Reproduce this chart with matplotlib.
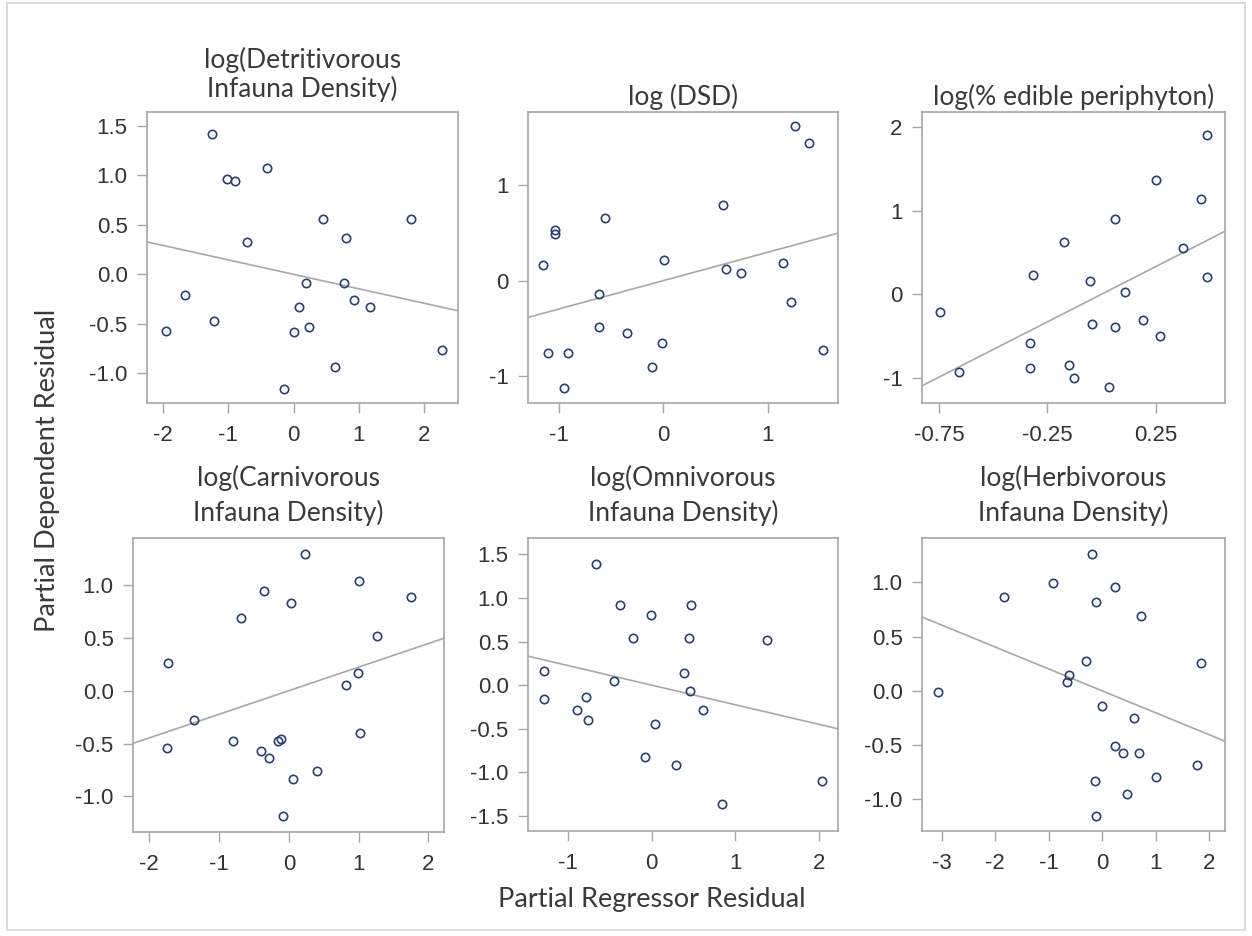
# Partial regression plots (six predictors) - recriação do painel SAS
import numpy as np
import matplotlib.pyplot as plt
from matplotlib.patches import Rectangle

# ---- dados ----
titulos = [
    ['log(Detritivorous', 'Infauna Density)'],
    ['log (DSD)'],
    ['log(% edible periphyton)'],
    ['log(Carnivorous', 'Infauna Density)'],
    ['log(Omnivorous', 'Infauna Density)'],
    ['log(Herbivorous', 'Infauna Density)'],
]

x_detr = [-1.25, -0.41, -1.02, -0.89, 0.45, 1.80, -0.71, 0.81, 0.19, 0.78, -1.67,
          0.09, 0.93, 1.17, -1.22, -1.96, 0.005, 0.24, 2.27, 0.63, -0.15]
y_detr = [1.415, 1.074, 0.96, 0.94, 0.564, 0.564, 0.33, 0.37, -0.09, -0.09, -0.21,
          -0.33, -0.26, -0.33, -0.47, -0.57, -0.58, -0.53, -0.76, -0.94, -1.16]

x_dsd = [1.26, 1.40, 0.57, -0.56, -1.04, -1.04, -1.16, 0.01, 0.60, 0.74, 1.15,
         -0.615, 1.22, -0.615, -0.35, -0.01, -1.11, -0.92, -0.11, -0.95, 1.53]
y_dsd = [1.614, 1.443, 0.79, 0.65, 0.53, 0.49, 0.163, 0.22, 0.12, 0.08, 0.18,
         -0.14, -0.226, -0.49, -0.55, -0.65, -0.76, -0.76, -0.90, -1.12, -0.73]

x_peri = [0.486, 0.252, 0.458, 0.063, -0.171, 0.378, -0.317, -0.055, 0.486, 0.109, -0.748,
          -0.045, 0.063, 0.191, 0.271, -0.332, -0.657, -0.332, -0.152, -0.125, 0.037]
y_peri = [1.907, 1.37, 1.136, 0.906, 0.628, 0.556, 0.23, 0.159, 0.203, 0.024, -0.21,
          -0.354, -0.397, -0.306, -0.493, -0.584, -0.934, -0.882, -0.842, -1.0, -1.112]

x_carn = [0.234, 1.0, -0.354, 0.033, 1.75, -0.684, 1.27, -1.727, 0.99, 0.823, -1.354,
          -0.794, -0.148, -0.115, -1.751, 1.024, -0.40, -0.282, 0.402, 0.067, -0.077]
y_carn = [1.295, 1.033, 0.945, 0.834, 0.888, 0.686, 0.518, 0.259, 0.171, 0.054, -0.278,
          -0.477, -0.474, -0.461, -0.537, -0.404, -0.572, -0.632, -0.758, -0.837, -1.185]

x_omni = [-0.669, -0.382, 0.474, -0.012, -0.223, 0.446, 1.381, -1.289, -0.454, 0.386, 0.454,
          -1.289, -0.788, -0.887, -0.760, 0.613, 0.036, -0.084, 0.294, 0.844, 2.037]
y_omni = [1.385, 0.916, 0.916, 0.80, 0.542, 0.542, 0.515, 0.160, 0.046, 0.134, -0.065,
          -0.160, -0.134, -0.286, -0.401, -0.286, -0.447, -0.828, -0.916, -1.363, -1.095]

x_herb = [-0.193, -0.922, 0.243, -1.83, -0.118, 0.722, -0.299, 1.849, -0.629, -0.66, -3.07,
          -0.006, 0.604, 0.243, 0.399, 0.691, 1.781, 1.009, -0.143, 0.461, -0.118]
y_herb = [1.265, 0.994, 0.957, 0.865, 0.815, 0.692, 0.271, 0.255, 0.148, 0.077, -0.015,
          -0.138, -0.252, -0.505, -0.575, -0.575, -0.683, -0.791, -0.828, -0.954, -1.151]

xs = [x_detr, x_dsd, x_peri, x_carn, x_omni, x_herb]
ys = [y_detr, y_dsd, y_peri, y_carn, y_omni, y_herb]

# inclinação da reta de regressão parcial (passa pela origem)
inclinacoes = [-0.146, 0.296, 1.32, 0.223, -0.225, -0.202]

xticks = [[-2, -1, 0, 1, 2], [-1, 0, 1], [-0.75, -0.25, 0.25],
          [-2, -1, 0, 1, 2], [-1, 0, 1, 2], [-3, -2, -1, 0, 1, 2]]
xticklabels = [['-2', '-1', '0', '1', '2'], ['-1', '0', '1'], ['-0.75', '-0.25', '0.25'],
               ['-2', '-1', '0', '1', '2'], ['-1', '0', '1', '2'], ['-3', '-2', '-1', '0', '1', '2']]
yticks = [[-1.0, -0.5, 0.0, 0.5, 1.0, 1.5], [-1, 0, 1], [-1, 0, 1, 2],
          [-1.0, -0.5, 0.0, 0.5, 1.0], [-1.5, -1.0, -0.5, 0.0, 0.5, 1.0, 1.5],
          [-1.0, -0.5, 0.0, 0.5, 1.0]]
yticklabels = [['-1.0', '-0.5', '0.0', '0.5', '1.0', '1.5'], ['-1', '0', '1'], ['-1', '0', '1', '2'],
               ['-1.0', '-0.5', '0.0', '0.5', '1.0'],
               ['-1.5', '-1.0', '-0.5', '0.0', '0.5', '1.0', '1.5'],
               ['-1.0', '-0.5', '0.0', '0.5', '1.0']]

xlims = [(-2.245, 2.52), (-1.30, 1.676), (-0.829, 0.571),
         (-2.234, 2.225), (-1.476, 2.224), (-3.37, 2.298)]
ylims = [(-1.30, 1.64), (-1.28, 1.763), (-1.30, 2.18),
         (-1.336, 1.444), (-1.672, 1.687), (-1.292, 1.409)]

# ---- layout (pixels) ----
W, H = 1252, 936
caixas = [(147, 112, 458, 403), (528, 112, 838, 403), (922, 112, 1225, 403),
          (133, 538, 444, 832), (528, 538, 838, 831), (922, 538, 1225, 831)]
titulo_y = [[60, 89], [97], [97], [478, 513], [478, 513], [478, 513]]

cor_texto = '#3a3a3a'
cor_eixo = '#a6a6a6'
cor_ponto = '#2b3f73'
fonte_titulo = 'Lato'
fonte_ticks = 'Liberation Sans'

fig = plt.figure(figsize=(W / 100, H / 100), dpi=100)
fig.patches.append(Rectangle((7 / W, 1 - 930 / H), (1245 - 7) / W, (930 - 3) / H,
                             transform=fig.transFigure, fill=False,
                             edgecolor='#d4d4d4', linewidth=1.2))

for i in range(6):
    l, t, r, b = caixas[i]
    ax = fig.add_axes([l / W, 1 - b / H, (r - l) / W, (b - t) / H])
    ax.set_xlim(xlims[i])
    ax.set_ylim(ylims[i])

    x0, x1 = xlims[i]
    ax.plot([x0, x1], [inclinacoes[i] * x0, inclinacoes[i] * x1],
            color='#a8a8a8', linewidth=1.2, zorder=2)
    ax.plot(xs[i], ys[i], linestyle='none', marker='o', markersize=6,
            markerfacecolor='none', markeredgecolor=cor_ponto, markeredgewidth=1.2, zorder=3)

    ax.set_xticks(xticks[i])
    ax.set_xticklabels(xticklabels[i])
    ax.set_yticks(yticks[i])
    ax.set_yticklabels(yticklabels[i])
    ax.tick_params(direction='out', length=7, width=1, color=cor_eixo,
                   labelcolor='#333333', labelsize=16, pad=7)
    ax.tick_params(axis='x', pad=9)
    for lab in ax.get_xticklabels() + ax.get_yticklabels():
        lab.set_fontfamily(fonte_ticks)
    for sp in ax.spines.values():
        sp.set_color(cor_eixo)
        sp.set_linewidth(1.2)

    cx = (l + r) / 2
    for linha, yy in zip(titulos[i], titulo_y[i]):
        fig.text(cx / W, 1 - yy / H, linha, ha='center', va='center',
                 fontsize=19, family=fonte_titulo, color=cor_texto)

fig.text(48 / W, 1 - 470 / H, 'Partial Dependent Residual', rotation=90,
         ha='center', va='center', fontsize=19.5, family=fonte_titulo, color=cor_texto)
fig.text(652 / W, 1 - 899 / H, 'Partial Regressor Residual',
         ha='center', va='center', fontsize=19.5, family=fonte_titulo, color=cor_texto)

plt.savefig('out.png', dpi=100)
